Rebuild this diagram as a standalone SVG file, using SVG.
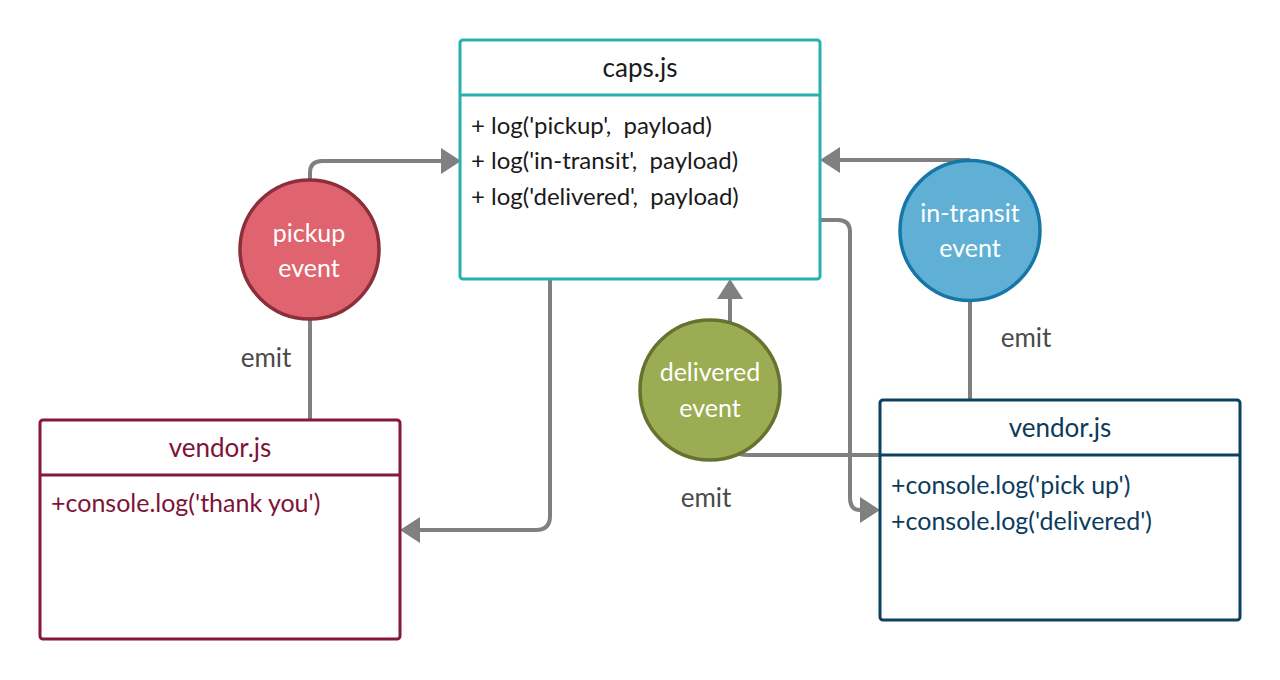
<svg xmlns="http://www.w3.org/2000/svg" width="1280" height="680" viewBox="0 0 1280 680">
<style>
text{font-family:Lato,"Open Sans","Liberation Sans",sans-serif}
.conn{fill:none;stroke:#808080;stroke-width:4}
.box{fill:#fff;stroke-width:3}
.ev{fill:#fff;font-size:25px;text-anchor:middle}
.emit{fill:#4a4a4a;font-size:26px;text-anchor:middle}
.title{font-size:26px;text-anchor:middle}
.m{font-size:24px;fill:#1a1a1a}
.v{font-size:25px}
</style>
<defs>
<marker id="arr" viewBox="0 0 20 26" refX="0" refY="13" markerWidth="20" markerHeight="26" markerUnits="userSpaceOnUse" orient="auto">
<path d="M0,0 L20,13 L0,26 z" fill="#808080"/>
</marker>
</defs>
<rect width="1280" height="680" fill="#fff"/>
<g id="connectors">
<path class="conn" d="M310 180 L310 173 Q310 161 322 161 L441 161" marker-end="url(#arr)"/>
<path class="conn" d="M970 160 L840 160" marker-end="url(#arr)"/>
<path class="conn" d="M730 322 L730 299" marker-end="url(#arr)"/>
<path class="conn" d="M550 280 L550 516 Q550 530 536 530 L420 530" marker-end="url(#arr)"/>
<path class="conn" d="M820 220 L838 220 Q850 220 850 232 L850 498 Q850 510 860 510" marker-end="url(#arr)"/>
<path class="conn" d="M310 320 L310 420"/>
<path class="conn" d="M970 302 L970 400"/>
<path class="conn" d="M725 440 Q730 455 748 455 L880 455"/>
<text class="emit" x="266" y="367">emit</text>
<text class="emit" x="1026" y="347">emit</text>
<text class="emit" x="706" y="507">emit</text>
</g>
<g id="caps">
<rect class="box" x="460" y="40" width="360" height="239" rx="3" stroke="#27b0ad"/>
<line x1="460" y1="95" x2="820" y2="95" stroke="#27b0ad" stroke-width="3"/>
<text class="title" x="640" y="77" fill="#1a1a1a">caps.js</text>
<text class="m" x="471" y="134" xml:space="preserve">+ log('pickup',  payload)</text>
<text class="m" x="471" y="169" xml:space="preserve">+ log('in-transit',  payload)</text>
<text class="m" x="471" y="205" xml:space="preserve">+ log('delivered',  payload)</text>
</g>
<g id="pickup">
<circle cx="309.5" cy="249.5" r="69.5" fill="#e0646f" stroke="#8b2f3b" stroke-width="3.5"/>
<text class="ev" x="309" y="242">pickup</text>
<text class="ev" x="309" y="277">event</text>
</g>
<g id="intransit">
<circle cx="970" cy="230.5" r="70" fill="#60b0d6" stroke="#1677a6" stroke-width="3.5"/>
<text class="ev" x="970" y="222">in-transit</text>
<text class="ev" x="970" y="257">event</text>
</g>
<g id="delivered">
<circle cx="710" cy="390" r="70" fill="#9bac52" stroke="#667330" stroke-width="3.5"/>
<text class="ev" x="710" y="381">delivered</text>
<text class="ev" x="710" y="417">event</text>
</g>
<g id="vendor1">
<rect class="box" x="40" y="420" width="360" height="219" rx="3" stroke="#84183f"/>
<line x1="40" y1="475" x2="400" y2="475" stroke="#84183f" stroke-width="3"/>
<text class="title" x="220" y="457" fill="#7d1438">vendor.js</text>
<text class="v" x="51" y="512" fill="#7d1438">+console.log('thank you')</text>
</g>
<g id="vendor2">
<rect class="box" x="880" y="400" width="360" height="220" rx="3" stroke="#0e4060"/>
<line x1="880" y1="455" x2="1240" y2="455" stroke="#0e4060" stroke-width="3"/>
<text class="title" x="1060" y="437" fill="#0c3c5c">vendor.js</text>
<text class="v" x="891" y="494" fill="#0c3c5c">+console.log('pick up')</text>
<text class="v" x="891" y="530" fill="#0c3c5c">+console.log('delivered')</text>
</g>
</svg>
